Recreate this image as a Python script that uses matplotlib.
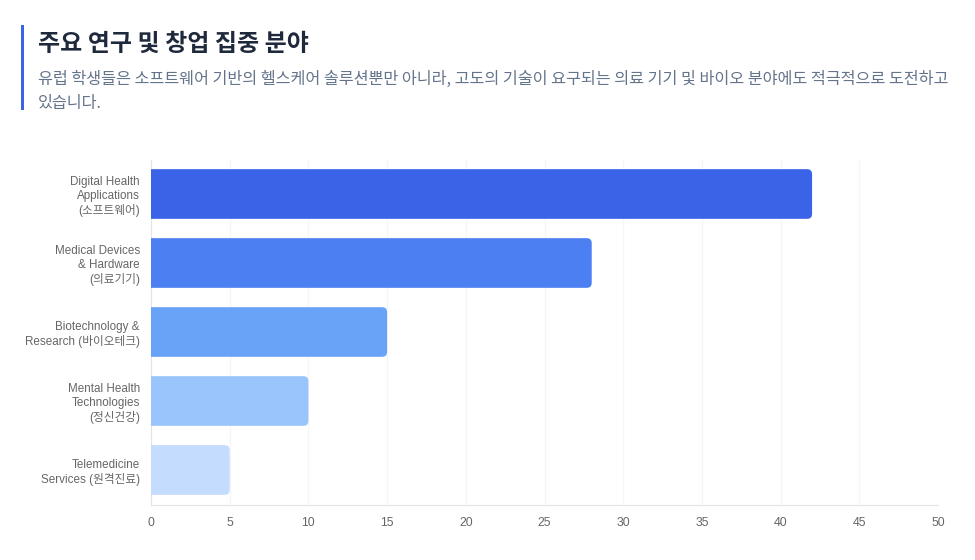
import matplotlib
matplotlib.use("Agg")
import matplotlib.pyplot as plt
from matplotlib.patches import FancyBboxPatch, Rectangle

# Chart data
categories = [
    "Digital Health\nApplications\n(소프트웨어)",
    "Medical Devices\n& Hardware\n(의료기기)",
    "Biotechnology &\nResearch (바이오테크)",
    "Mental Health\nTechnologies\n(정신건강)",
    "Telemedicine\nServices (원격진료)",
]
values = [42, 28, 15, 10, 5]
bar_colors = ["#3a63e8", "#4c80f2", "#69a3f8", "#99c5fc", "#c4dcfe"]
x_ticks = [0, 5, 10, 15, 20, 25, 30, 35, 40, 45, 50]

title = "주요 연구 및 창업 집중 분야"
subtitle = ("유럽 학생들은 소프트웨어 기반의 헬스케어 솔루션뿐만 아니라, 고도의 기술이 "
            "요구되는 의료 기기 및 바이오 분야에도 적극적으로 도전하고\n있습니다.")

KR = ["Noto Sans CJK KR", "DejaVu Sans"]
LABEL_FONT = ["Liberation Sans", "Noto Sans CJK KR"]

fig = plt.figure(figsize=(9.75, 5.6), dpi=100)
fig.patch.set_facecolor("white")

W, H = 975, 560
# plot area in pixels: left 151, right 938, top 159.5, bottom 504.5
ax = fig.add_axes([151 / W, 1 - 504.5 / H, (938 - 151) / W, (504.5 - 159.5) / H])

n = len(categories)
ypos = list(range(n))
ax.set_xlim(0, 50)
ax.set_ylim(n - 0.5, -0.5)

# rounded right ends, square left ends (left part clipped by the axes)
bar_h = 0.72
x_px = (938 - 151) / 50
y_px = 69.0
aspect = x_px / y_px
r = 5 / x_px
for y, v, c in zip(ypos, values, bar_colors):
    p = FancyBboxPatch(
        (-1, y - bar_h / 2), v + 1, bar_h,
        boxstyle=f"round,pad=0,rounding_size={r}",
        mutation_aspect=aspect,
        facecolor=c, edgecolor="none", zorder=3,
    )
    ax.add_patch(p)

ax.set_xticks(x_ticks)
ax.set_xticklabels([str(t) for t in x_ticks], fontsize=8.8, color="#666666",
                   family=LABEL_FONT)
ax.set_yticks(ypos)
ax.set_yticklabels(categories, fontsize=8.4, color="#666666", family=LABEL_FONT,
                   linespacing=1.2)
ax.tick_params(axis="both", length=0)
ax.tick_params(axis="y", pad=8)
ax.tick_params(axis="x", pad=9)

ax.grid(axis="x", color="#f6f6f6", linewidth=1, zorder=0)
ax.set_axisbelow(True)
for s in ["top", "right"]:
    ax.spines[s].set_visible(False)
ax.spines["left"].set_color("#e4e4e4")
ax.spines["bottom"].set_color("#e4e4e4")

# header
fig.patches.append(Rectangle((21 / W, 1 - 110 / H), 3 / W, 85 / H,
                             transform=fig.transFigure, facecolor="#3a63e8",
                             edgecolor="none"))
fig.text(38 / W, 1 - 43.5 / H, title, family=KR, fontsize=17.3, fontweight="bold",
         color="#1e293b", va="center", ha="left")
fig.text(38 / W, 1 - 70.5 / H, subtitle, family=KR, fontsize=11.7, color="#64748b",
         va="top", ha="left", linespacing=1.55)

fig.savefig("out.png", dpi=100, facecolor="white")
